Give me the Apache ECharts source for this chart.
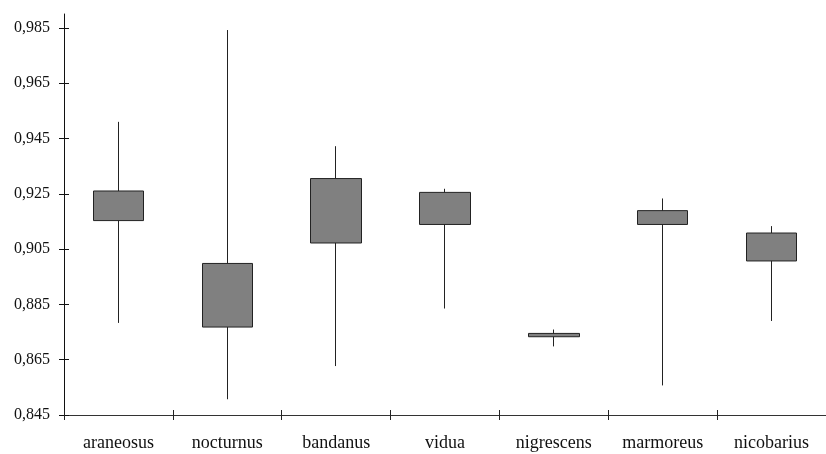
<!DOCTYPE html>
<html>
<head>
<meta charset="utf-8">
<script src="https://cdn.jsdelivr.net/npm/echarts@6/dist/echarts.min.js"></script>
<style>
html,body{margin:0;padding:0;background:#fff;}
#chart{width:826px;height:454px;}
</style>
</head>
<body>
<div id="chart"></div>
<script>
var categories = ['araneosus','nocturnus','bandanus','vidua','nigrescens','marmoreus','nicobarius'];
var q1Values   = [0.9153, 0.8768, 0.9072, 0.9139, 0.8733, 0.9139, 0.9007];
var q3Values   = [0.9260, 0.8998, 0.9305, 0.9255, 0.8745, 0.9189, 0.9108];
var minValues  = [0.8783, 0.8507, 0.8627, 0.8835, 0.8698, 0.8557, 0.8790];
var maxValues  = [0.9510, 0.9842, 0.9422, 0.9268, 0.8759, 0.9233, 0.9133];
var yTicks = [0.845, 0.865, 0.885, 0.905, 0.925, 0.945, 0.965, 0.985];

var candleData = categories.map(function(c, i){
  return [q1Values[i], q3Values[i], minValues[i], maxValues[i]];
});

var FONT = 'Liberation Serif';
var chart = echarts.init(document.getElementById('chart'));
var yMin = 0.845, yMax = 0.99;
function fmt(v){ return v.toFixed(3).replace('.', ','); }

chart.setOption({
  animation: false,
  backgroundColor: '#fff',
  grid: { left: 64, top: 14, width: 766, bottom: 39, containLabel: false },
  xAxis: [{
    type: 'category',
    data: categories,
    position: 'bottom',
    axisLine: { lineStyle: { color: '#333', width: 1 } },
    axisTick: { show: true, inside: false, length: 5, alignWithLabel: false, lineStyle: { color: '#222' } },
    axisLabel: { color: '#111', fontFamily: FONT, fontSize: 18, margin: 19 },
    splitLine: { show: false }
  }, {
    type: 'category',
    data: categories,
    position: 'bottom',
    axisLine: { show: false },
    axisTick: { show: true, inside: true, length: 5, alignWithLabel: false, lineStyle: { color: '#222' } },
    axisLabel: { show: false },
    splitLine: { show: false }
  }],
  yAxis: [{
    type: 'value',
    min: yMin,
    max: yMax,
    axisLine: { show: true, lineStyle: { color: '#111', width: 1 } },
    axisTick: { show: true, inside: false, length: 5, customValues: yTicks, lineStyle: { color: '#111' } },
    axisLabel: { color: '#111', fontFamily: FONT, fontSize: 16, margin: 14, customValues: yTicks, formatter: fmt },
    splitLine: { show: false }
  }, {
    type: 'value',
    min: yMin,
    max: yMax,
    position: 'left',
    axisLine: { show: false },
    axisTick: { show: true, inside: true, length: 5, customValues: yTicks, lineStyle: { color: '#111' } },
    axisLabel: { show: false },
    splitLine: { show: false }
  }],
  series: [{
    type: 'candlestick',
    data: candleData,
    barWidth: 51,
    itemStyle: {
      color: '#808080',
      color0: '#808080',
      borderColor: '#222',
      borderColor0: '#222',
      borderWidth: 1
    }
  }]
});
</script>
</body>
</html>
